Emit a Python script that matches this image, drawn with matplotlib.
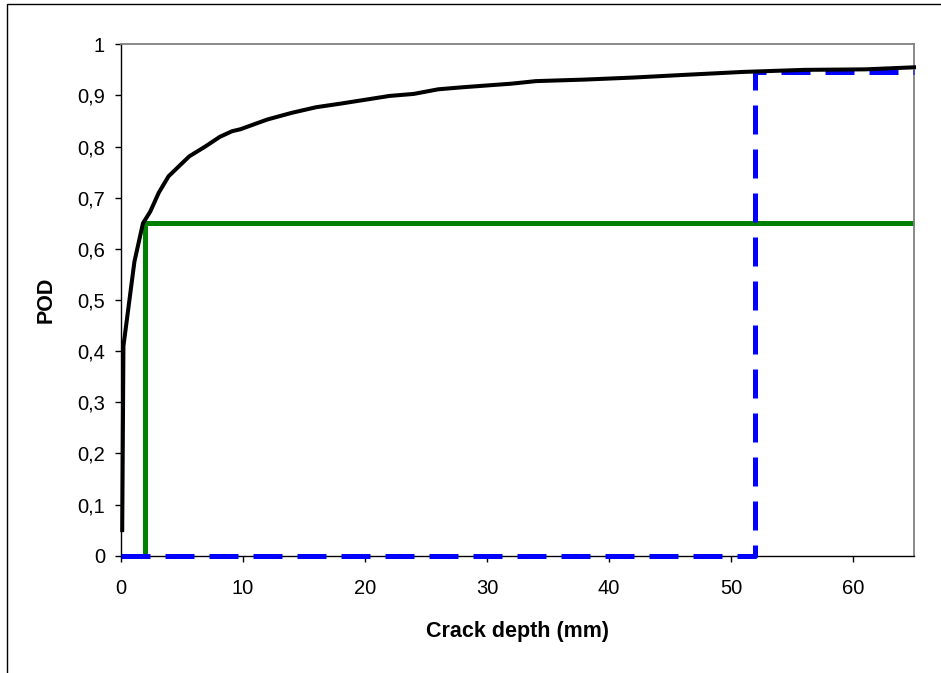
import matplotlib
matplotlib.use("Agg")
import matplotlib.pyplot as plt
from matplotlib.patches import Rectangle

# POD curve
crack_depth = [0.1, 0.2, 1.1, 1.8, 2.4, 3.1, 3.9, 5.6, 6.9, 8.1, 9.1, 9.8, 12, 14, 16, 18,
               22, 24, 26, 28, 32, 34, 38, 42, 46, 51, 56, 61, 65]
pod = [0.05, 0.41, 0.575, 0.65, 0.673, 0.71, 0.742, 0.781, 0.8, 0.819, 0.83, 0.834, 0.853,
       0.866, 0.877, 0.884, 0.899, 0.903, 0.912, 0.916, 0.923, 0.928, 0.931, 0.935, 0.94,
       0.946, 0.95, 0.951, 0.955]

# green step (threshold at 2 mm -> POD 0.65)
green_x = [2, 2, 65]
green_y = [0, 0.65, 0.65]

# blue dashed step (52 mm -> POD 0.945)
blue_x = [0, 52, 52, 65]
blue_y = [0, 0, 0.945, 0.945]

x_ticks = [0, 10, 20, 30, 40, 50, 60]
y_ticks = [0, 0.1, 0.2, 0.3, 0.4, 0.5, 0.6, 0.7, 0.8, 0.9, 1.0]
y_tick_labels = ["0", "0,1", "0,2", "0,3", "0,4", "0,5", "0,6", "0,7", "0,8", "0,9", "1"]

plt.rcParams['font.family'] = ['Liberation Sans', 'DejaVu Sans']

W, H = 941, 673
fig = plt.figure(figsize=(W / 100, H / 100), dpi=100)

# chart area border (only left/top edge visible in the crop)
fig.patches.append(Rectangle((7 / W, -0.1), 1.2, 1 - 4 / H + 0.1, transform=fig.transFigure,
                             fill=False, edgecolor='black', linewidth=1.0))

ax = fig.add_axes([121 / W, (H - 555.7) / H, 793 / W, 511.4 / H])

ax.plot(green_x, green_y, color='#008000', linewidth=3.6, zorder=2, clip_on=False,
        solid_capstyle='butt')
ax.plot(blue_x, blue_y, color='#0000FF', linewidth=3.6, zorder=3, clip_on=False,
        dashes=(5.8, 3.0), dash_capstyle='butt')
ax.plot(crack_depth, pod, color='black', linewidth=2.9, zorder=4, clip_on=False,
        solid_joinstyle='round')

ax.set_xlim(0, 65)
ax.set_ylim(0, 1)
ax.set_xticks(x_ticks)
ax.set_yticks(y_ticks)
ax.set_yticklabels(y_tick_labels)

for side in ['top', 'right']:
    ax.spines[side].set_color('#808080')
    ax.spines[side].set_linewidth(1.3)
for side in ['left', 'bottom']:
    ax.spines[side].set_color('black')
    ax.spines[side].set_linewidth(1.0)

ax.tick_params(axis='both', direction='out', length=4.5, width=1.0, labelsize=14.5,
               color='black')
ax.tick_params(axis='x', pad=12)
ax.tick_params(axis='y', pad=7)

fig.text(517 / W, 1 - 632 / H, "Crack depth (mm)", ha='center', va='center',
         fontsize=15.5, fontweight='bold')
fig.text(46 / W, 1 - 300 / H, "POD", ha='center', va='center', rotation=90,
         fontsize=15.5, fontweight='bold')

fig.savefig("out.png", dpi=100)
